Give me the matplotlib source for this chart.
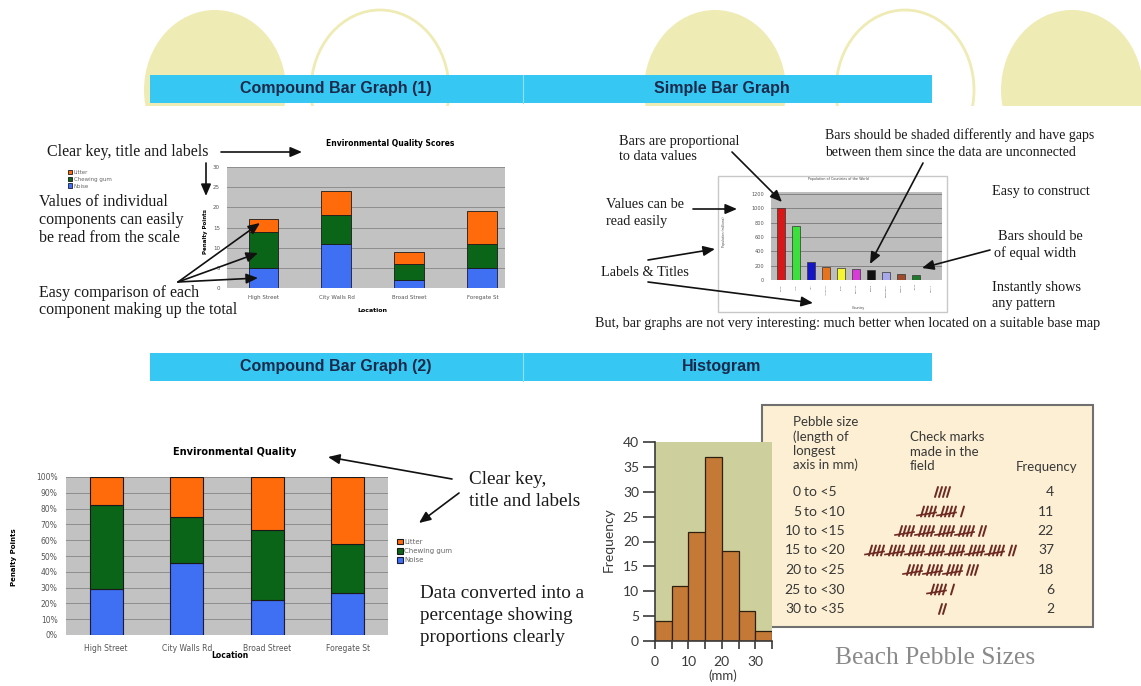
import numpy as np
import matplotlib
matplotlib.use("Agg")
import matplotlib.pyplot as plt
from matplotlib.patches import Ellipse, Rectangle

W, H = 1141, 686

# compound bar data (penalty points)
locations = ["High Street", "City Walls Rd", "Broad Street", "Foregate St"]
noise = [5, 11, 2, 5]
chewing_gum = [9, 7, 4, 6]
litter = [3, 6, 3, 8]

# simple bar data
countries = ["China", "India", "USA", "Indonesia", "Brazil", "Pakistan",
             "Russia", "Bangladesh", "Nigeria", "Japan", "Mexico"]
population = [1010, 760, 245, 175, 165, 160, 135, 105, 90, 75, 0]
country_colors = ["#D81818", "#3BE03B", "#1414C8", "#E8731E", "#F5F530", "#D83CD8",
                  "#111111", "#A8A8EC", "#A04A2C", "#1E7A2A", "#9A9A9A"]

# histogram data
bin_left = [0, 5, 10, 15, 20, 25, 30]
frequency = [4, 11, 22, 37, 18, 6, 2]

BLUE = "#3F6FF2"
GREEN = "#0B6518"
ORANGE = "#FF6A0A"
SERIF = "Liberation Serif"
SANS = "Liberation Sans"
TXT = "#1a1a1a"


def rect(x0, y0, x1, y1):
    return [x0 / W, 1 - y1 / H, (x1 - x0) / W, (y1 - y0) / H]


def arrow(ax, tail, head):
    ax.annotate("", xy=head, xytext=tail,
                arrowprops=dict(arrowstyle="-|>,head_length=0.7,head_width=0.3",
                                color="#111111", lw=1.2, shrinkA=0, shrinkB=0))


def lines(ax, x, ys, strs, size):
    for y, s in zip(ys, strs):
        ax.text(x, y, s, fontsize=size, family=SERIF, color=TXT, va="center", ha="left")


fig = plt.figure(figsize=(W / 100, H / 100), dpi=100)
fig.patch.set_facecolor("white")

bg = fig.add_axes([0, 0, 1, 1])
bg.set_xlim(0, W)
bg.set_ylim(H, 0)
bg.axis("off")

# decorative circles behind the banner
clip = Rectangle((0, 0), W, 106, transform=bg.transData)
for cx, filled in [(215, True), (380, False), (715, True), (905, False), (1072, True)]:
    if filled:
        e = Ellipse((cx, 90), 142, 160, facecolor="#EFEBB5", edgecolor="none")
    else:
        e = Ellipse((cx, 90), 138, 160, facecolor="none", edgecolor="#EFEBB5", lw=2)
    bg.add_patch(e)
    e.set_clip_path(clip)

# banners
for top, left_title, right_title in [(75, "Compound Bar Graph (1)", "Simple Bar Graph"),
                                     (353, "Compound Bar Graph (2)", "Histogram")]:
    bg.add_patch(Rectangle((150, top), 782, 28, facecolor="#36C8F3", edgecolor="none"))
    bg.plot([523, 523], [top, top + 28], color="#8EE0F8", lw=0.8)
    bg.text(336, top + 14, left_title, fontsize=11.5, family=SANS, weight="bold",
            color="#1B2A4A", ha="center", va="center")
    bg.text(722, top + 14, right_title, fontsize=11.5, family=SANS, weight="bold",
            color="#1B2A4A", ha="center", va="center")

# ---- Compound bar graph (1)
ax1 = fig.add_axes(rect(227, 167, 505, 288))
n = np.array(noise, dtype=float)
g = np.array(chewing_gum, dtype=float)
l = np.array(litter, dtype=float)
x = np.arange(len(locations))
b_noise = ax1.bar(x, n, 0.41, color=BLUE, edgecolor="#1a1a3a", lw=0.6, label="Noise")
b_gum = ax1.bar(x, g, 0.41, bottom=n, color=GREEN, edgecolor="#1a1a1a", lw=0.6, label="Chewing gum")
b_lit = ax1.bar(x, l, 0.41, bottom=n + g, color=ORANGE, edgecolor="#1a1a1a", lw=0.6, label="Litter")
ax1.set_facecolor("#C2C2C2")
ax1.set_xlim(-0.5, 3.31)
ax1.set_ylim(0, 30)
ax1.set_yticks(range(0, 31, 5))
ax1.set_xticks(x, locations)
ax1.grid(axis="y", color="#8E8E8E", lw=0.7)
ax1.set_axisbelow(True)
ax1.tick_params(length=0, labelsize=4, colors="#555555")
ax1.tick_params(axis="y", pad=5)
ax1.tick_params(axis="x", pad=5)
for s in ax1.spines.values():
    s.set_visible(False)
bg.text(390, 144, "Environmental Quality Scores", fontsize=5.5, weight="bold", ha="center", va="center")
bg.text(372, 311, "Location", fontsize=4.5, weight="bold", ha="center", va="center")
bg.text(206, 231, "Penalty Points", fontsize=4, weight="bold", rotation=90, ha="center", va="center")
fig.legend([b_lit, b_gum, b_noise], ["Litter", "Chewing gum", "Noise"], loc="upper left",
           bbox_to_anchor=(68 / W, 1 - 170 / H), frameon=False, fontsize=4,
           handlelength=0.8, handleheight=0.8, handletextpad=0.2, labelspacing=0.3,
           borderpad=0, borderaxespad=0, labelcolor="#666666")

# ---- Simple bar graph
bg.add_patch(Rectangle((718, 176), 229, 136, facecolor="white", edgecolor="#C8C8C8", lw=1))
ax2 = fig.add_axes(rect(771, 192, 942, 280))
xc = np.arange(len(countries))
ax2.bar(xc, population, 0.55, color=country_colors, edgecolor="#333333", lw=0.5)
ax2.set_facecolor("#BDBDBD")
ax2.set_xlim(-0.67, 10.73)
ax2.set_ylim(0, 1230)
ax2.set_yticks(range(0, 1201, 200))
ax2.set_xticks(xc, countries, rotation=90)
ax2.grid(axis="y", color="#7A7A7A", lw=0.6)
ax2.set_axisbelow(True)
ax2.tick_params(length=0, colors="#555555")
ax2.tick_params(axis="y", labelsize=3.6, pad=5)
ax2.tick_params(axis="x", labelsize=1.6, pad=3)
for s in ax2.spines.values():
    s.set_visible(False)
bg.text(838, 179, "Population of Countries of the World", fontsize=2.4, ha="center", va="center", color="#444444")
bg.text(858, 308, "Country", fontsize=2.4, ha="center", va="center", color="#444444")
bg.text(724, 232, "Population (millions)", fontsize=2.2, rotation=90, ha="center", va="center", color="#444444")

# ---- Compound bar graph (2), percentages
ax3 = fig.add_axes(rect(66, 477, 388, 635))
tot = n + g + l
pn, pg, pl = n / tot * 100, g / tot * 100, l / tot * 100
c_noise = ax3.bar(x, pn, 0.41, color=BLUE, edgecolor="#1a1a3a", lw=0.8)
c_gum = ax3.bar(x, pg, 0.41, bottom=pn, color=GREEN, edgecolor="#1a1a1a", lw=0.8)
c_lit = ax3.bar(x, pl, 0.41, bottom=pn + pg, color=ORANGE, edgecolor="#1a1a1a", lw=0.8)
ax3.set_facecolor("#C2C2C2")
ax3.set_xlim(-0.5, 3.5)
ax3.set_ylim(0, 100)
ax3.set_yticks(range(0, 101, 10), [f"{v}%" for v in range(0, 101, 10)])
ax3.set_xticks(x, locations)
ax3.grid(axis="y", color="#8E8E8E", lw=0.7)
ax3.set_axisbelow(True)
ax3.tick_params(length=0, labelsize=5.5, colors="#555555")
ax3.tick_params(axis="y", pad=6)
ax3.tick_params(axis="x", pad=6.5)
for s in ax3.spines.values():
    s.set_visible(False)
bg.text(235, 452, "Environmental Quality", fontsize=7, weight="bold", ha="center", va="center")
bg.text(230, 656, "Location", fontsize=5.5, weight="bold", ha="center", va="center")
bg.text(14, 557, "Penalty Points", fontsize=5, weight="bold", rotation=90, ha="center", va="center")
fig.legend([c_lit, c_gum, c_noise], ["Litter", "Chewing gum", "Noise"], loc="upper left",
           bbox_to_anchor=(397 / W, 1 - 539 / H), frameon=False, fontsize=5,
           handlelength=0.8, handleheight=0.8, handletextpad=0.2, labelspacing=0.45,
           borderpad=0, borderaxespad=0, labelcolor="#666666")

# ---- Histogram with tally table
bg.add_patch(Rectangle((762, 405), 331, 222, facecolor="#FCEFD3", edgecolor="#707070", lw=1.5))
ax4 = fig.add_axes(rect(655, 442, 772, 641))
ax4.bar(bin_left, frequency, width=5, align="edge", color="#C47A36", edgecolor="#2E2010", lw=0.9)
ax4.set_facecolor("#CDD09C")
ax4.set_xlim(0, 35)
ax4.set_ylim(0, 40)
ax4.set_yticks(range(0, 41, 5))
ax4.set_xticks(range(0, 31, 10))
ax4.set_xticks(range(0, 36, 5), minor=True)
for side in ["top", "right"]:
    ax4.spines[side].set_visible(False)
for side in ["left", "bottom"]:
    ax4.spines[side].set_color("#3a3a3a")
    ax4.spines[side].set_linewidth(1.2)
ax4.tick_params(axis="y", length=8.5, width=1.2, pad=3, colors="#3a3a3a", labelsize=10)
ax4.tick_params(axis="x", which="both", length=5.5, width=1.2, colors="#3a3a3a")
ax4.tick_params(axis="x", labelsize=10, pad=5)
for lab in ax4.get_xticklabels() + ax4.get_yticklabels():
    lab.set_family("Lato")
bg.text(609, 540, "Frequency", fontsize=10, family="Lato", rotation=90, ha="center", va="center", color="#3a3a3a")
bg.text(723, 676, "(mm)", fontsize=9.5, family="Lato", ha="center", va="center", color="#3a3a3a")

tcol = "#383838"
for y, s in zip([422, 437, 451, 465], ["Pebble size", "(length of", "longest", "axis in mm)"]):
    bg.text(793, y, s, fontsize=9.5, family="Lato", color=tcol, va="center")
for y, s in zip([437, 452, 466], ["Check marks", "made in the", "field"]):
    bg.text(910, y, s, fontsize=9.5, family="Lato", color=tcol, va="center")
bg.text(1016, 467, "Frequency", fontsize=9.5, family="Lato", color=tcol, va="center")

row_y = 492
for lo, f in zip(bin_left, frequency):
    bg.text(801, row_y, str(lo), fontsize=10, family="Lato", color=tcol, va="center", ha="right")
    bg.text(804, row_y, f"to <{lo + 5}", fontsize=10, family="Lato", color=tcol, va="center", ha="left")
    bg.text(1054, row_y, str(f), fontsize=10, family="Lato", color=tcol, va="center", ha="right")
    groups, rest = divmod(f, 5)
    width = groups * 20 + rest * 4
    x0 = 941 - width / 2
    for k in range(groups):
        gx = x0 + k * 20
        for j in range(4):
            sx = gx + 2 + j * 4
            bg.plot([sx, sx + 3], [row_y + 5, row_y - 5], color="#6E2A22", lw=1.4, solid_capstyle="round")
        bg.plot([gx - 2, gx + 17], [row_y + 4, row_y + 1], color="#6E2A22", lw=1.2)
    for j in range(rest):
        sx = x0 + groups * 20 + 2 + j * 4
        bg.plot([sx, sx + 3], [row_y + 5, row_y - 5], color="#6E2A22", lw=1.4, solid_capstyle="round")
    row_y += 19.5

bg.text(835, 658, "Beach Pebble Sizes", fontsize=18.4, family=SERIF, color="#8A8A8A", va="center")

# ---- foreground annotations
fg = fig.add_axes([0, 0, 1, 1])
fg.set_zorder(10)
fg.patch.set_alpha(0)
fg.set_xlim(0, W)
fg.set_ylim(H, 0)
fg.axis("off")

lines(fg, 47, [152], ["Clear key, title and labels"], 11.5)
lines(fg, 39, [202, 220, 238], ["Values of individual", "components can easily", "be read from the scale"], 11.5)
lines(fg, 39, [293, 310], ["Easy comparison of each", "component making up the total"], 11.5)
arrow(fg, (221, 152), (302, 152))
arrow(fg, (206, 163), (206, 196))
arrow(fg, (178, 282), (260, 223))
arrow(fg, (178, 282), (258, 253))
arrow(fg, (178, 282), (258, 278))

lines(fg, 619, [141, 157], ["Bars are proportional", "to data values"], 10.3)
lines(fg, 825, [135, 153], ["Bars should be shaded differently and have gaps",
                            "between them since the data are unconnected"], 10)
lines(fg, 992, [192], ["Easy to construct"], 10.3)
lines(fg, 606, [205, 221], ["Values can be", "read easily"], 10.3)
lines(fg, 998, [237], ["Bars should be"], 10.3)
lines(fg, 994, [253], ["of equal width"], 10.3)
lines(fg, 601, [272], ["Labels & Titles"], 10.3)
lines(fg, 992, [288, 304], ["Instantly shows", "any pattern"], 10.3)
lines(fg, 595, [324], ["But, bar graphs are not very interesting: much better when located on a suitable base map"], 10.2)
arrow(fg, (732, 152), (782, 202))
arrow(fg, (923, 163), (870, 264))
arrow(fg, (693, 209), (737, 209))
arrow(fg, (648, 260), (715, 249))
arrow(fg, (648, 282), (813, 303))
arrow(fg, (990, 250), (922, 268))

lines(fg, 469, [480, 501], ["Clear key,", "title and labels"], 13.8)
lines(fg, 420, [594, 615, 637], ["Data converted into a", "percentage showing", "proportions clearly"], 13.8)
arrow(fg, (452, 479), (328, 457))
arrow(fg, (459, 493), (419, 523))

fig.savefig("out.png", dpi=100)
